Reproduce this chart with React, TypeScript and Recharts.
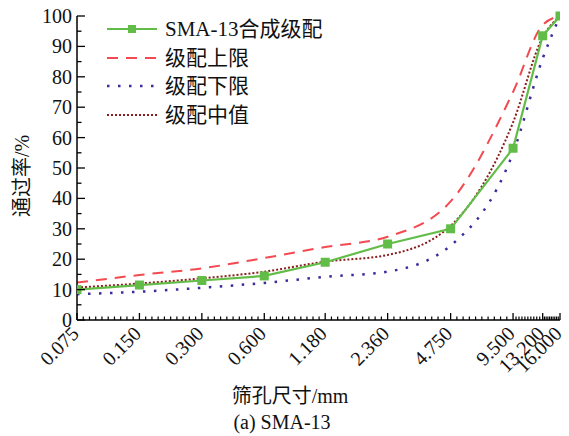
import React from 'react';
import { LineChart, Line, XAxis, YAxis } from 'recharts';

const sizes = [0.075, 0.15, 0.3, 0.6, 1.18, 2.36, 4.75, 9.5, 13.2, 16];
const xTickLabels = ['0.075', '0.150', '0.300', '0.600', '1.180', '2.360', '4.750', '9.500', '13.200', '16.000'];
const sma13 = [10, 11.5, 13, 14.5, 19, 25, 30, 56.5, 93.5, 100];
const upperLimit = [12.3, 14.8, 17, 20.4, 24, 27.4, 39, 75, 97, 100];
const lowerLimit = [8.5, 9.3, 10.6, 12.2, 14.2, 15.9, 24.5, 55, 86, 100];
const midValue = [10.7, 12, 13.7, 15.9, 19.2, 21.4, 31, 65, 93, 100];
const yTicks = [0, 5, 10, 15, 20, 25, 30, 35, 40, 45, 50, 55, 60, 65, 70, 75, 80, 85, 90, 95, 100];

const seriesNames = ['SMA-13合成级配', '级配上限', '级配下限', '级配中值'];

const data = sizes.map((s, i) => ({
  size: s,
  sma: sma13[i],
  upper: upperLimit[i],
  lower: lowerLimit[i],
  mid: midValue[i],
}));

const minorX: number[] = [];
for (let i = 0; i < sizes.length - 1; i++) {
  const a = Math.log10(sizes[i]);
  const b = Math.log10(sizes[i + 1]);
  for (let k = 1; k < 10; k++) minorX.push(Math.pow(10, a + ((b - a) * k) / 10));
}
const xTicks = [...sizes, ...minorX].sort((p, q) => p - q);

const FONT = '"Liberation Serif", "Noto Sans CJK SC", serif';
const GREEN = '#62bd48';
const RED = '#f24a50';
const BLUE = '#3b2c9c';
const BROWN = '#8a1c1c';

const XTick = (props: any) => {
  const { x, y, payload } = props;
  const idx = sizes.findIndex((s) => Math.abs(s - payload.value) < 1e-9);
  if (idx < 0) {
    return <line x1={x} x2={x} y1={y} y2={y - 3.5} stroke="#000" strokeWidth={1.2} />;
  }
  const ax = x - 2;
  const ay = y + 10;
  return (
    <g>
      <line x1={x} x2={x} y1={y} y2={y - 7} stroke="#000" strokeWidth={1.3} />
      <text
        x={ax}
        y={ay}
        textAnchor="end"
        dominantBaseline="central"
        transform={`rotate(-45, ${ax}, ${ay})`}
        fontFamily={FONT}
        fontSize={20}
        fill="#111"
      >
        {xTickLabels[idx]}
      </text>
    </g>
  );
};

const YTick = (props: any) => {
  const { x, y, payload } = props;
  const v = payload.value;
  const major = v % 10 === 0;
  return (
    <g>
      <line x1={x} x2={x + (major ? 8 : 4.5)} y1={y} y2={y} stroke="#000" strokeWidth={1.3} />
      {major && (
        <text x={x - 5} y={y} textAnchor="end" dominantBaseline="central" fontFamily={FONT} fontSize={20} fill="#111">
          {v}
        </text>
      )}
    </g>
  );
};

const legendRows = [
  { name: seriesNames[0], color: GREEN, dash: undefined as string | undefined, marker: true, w: 2.2 },
  { name: seriesNames[1], color: RED, dash: '11 8', marker: false, w: 2 },
  { name: seriesNames[2], color: BLUE, dash: '2.5 8.5', marker: false, w: 2.5 },
  { name: seriesNames[3], color: BROWN, dash: '2 2', marker: false, w: 2 },
];

const LegendBox = () => (
  <div style={{ position: 'absolute', left: 107, top: 15, fontFamily: FONT, fontSize: 21, color: '#111' }}>
    {legendRows.map((r, i) => (
      <div key={i} style={{ display: 'flex', alignItems: 'center', height: 28.5 }}>
        <svg width={58} height={14} style={{ display: 'block' }}>
          <line x1={0} x2={50} y1={7} y2={7} stroke={r.color} strokeWidth={r.w} strokeDasharray={r.dash} />
          {r.marker && <rect x={21} y={3} width={8} height={8} fill={r.color} />}
        </svg>
        <span style={{ whiteSpace: 'nowrap', lineHeight: '22px', fontFamily: FONT }}>{r.name}</span>
      </div>
    ))}
  </div>
);

const SquareDot = (props: any) => {
  const { cx, cy } = props;
  if (cx == null || cy == null) return null;
  return <rect x={cx - 4.5} y={cy - 4.5} width={9} height={9} fill={GREEN} />;
};

export default function App() {
  return (
    <div style={{ position: 'absolute', left: 0, top: 0, width: 569, height: 436, background: '#fff' }}>
      <LineChart width={569} height={436} data={data} margin={{ top: 16, right: 9, left: 0, bottom: 0 }}>
        <XAxis
          dataKey="size"
          type="number"
          scale="log"
          domain={[0.075, 16]}
          allowDataOverflow
          ticks={xTicks}
          interval={0}
          tick={<XTick />}
          tickLine={false}
          tickSize={0}
          tickMargin={0}
          height={116}
          axisLine={{ stroke: '#000', strokeWidth: 1.5 }}
        />
        <YAxis
          type="number"
          domain={[0, 100]}
          ticks={yTicks}
          interval={0}
          tick={<YTick />}
          tickLine={false}
          tickSize={0}
          tickMargin={0}
          width={77}
          axisLine={{ stroke: '#000', strokeWidth: 1.5 }}
        />
        <Line dataKey="upper" name={seriesNames[1]} type="monotone" stroke={RED} strokeWidth={2} strokeDasharray="11 8" dot={false} isAnimationActive={false} />
        <Line dataKey="lower" name={seriesNames[2]} type="monotone" stroke={BLUE} strokeWidth={2.5} strokeDasharray="2.5 8.5" dot={false} isAnimationActive={false} />
        <Line dataKey="mid" name={seriesNames[3]} type="monotone" stroke={BROWN} strokeWidth={2} strokeDasharray="2 2" dot={false} isAnimationActive={false} />
        <Line dataKey="sma" name={seriesNames[0]} type="linear" stroke={GREEN} strokeWidth={2.2} dot={<SquareDot />} isAnimationActive={false} />
      </LineChart>
      <LegendBox />
      <div
        style={{
          position: 'absolute',
          left: 20,
          top: 176,
          transform: 'translate(-50%, -50%) rotate(-90deg)',
          fontFamily: FONT,
          fontSize: 20,
          whiteSpace: 'nowrap',
          color: '#111',
        }}
      >
        通过率/%
      </div>
      <div
        style={{
          position: 'absolute',
          left: 290,
          top: 394,
          transform: 'translate(-50%, -50%)',
          fontFamily: FONT,
          fontSize: 20,
          whiteSpace: 'nowrap',
          color: '#111',
        }}
      >
        筛孔尺寸/mm
      </div>
      <div
        style={{
          position: 'absolute',
          left: 282,
          top: 422,
          transform: 'translate(-50%, -50%)',
          fontFamily: FONT,
          fontSize: 20,
          whiteSpace: 'nowrap',
          color: '#111',
        }}
      >
        (a) SMA-13
      </div>
    </div>
  );
}
